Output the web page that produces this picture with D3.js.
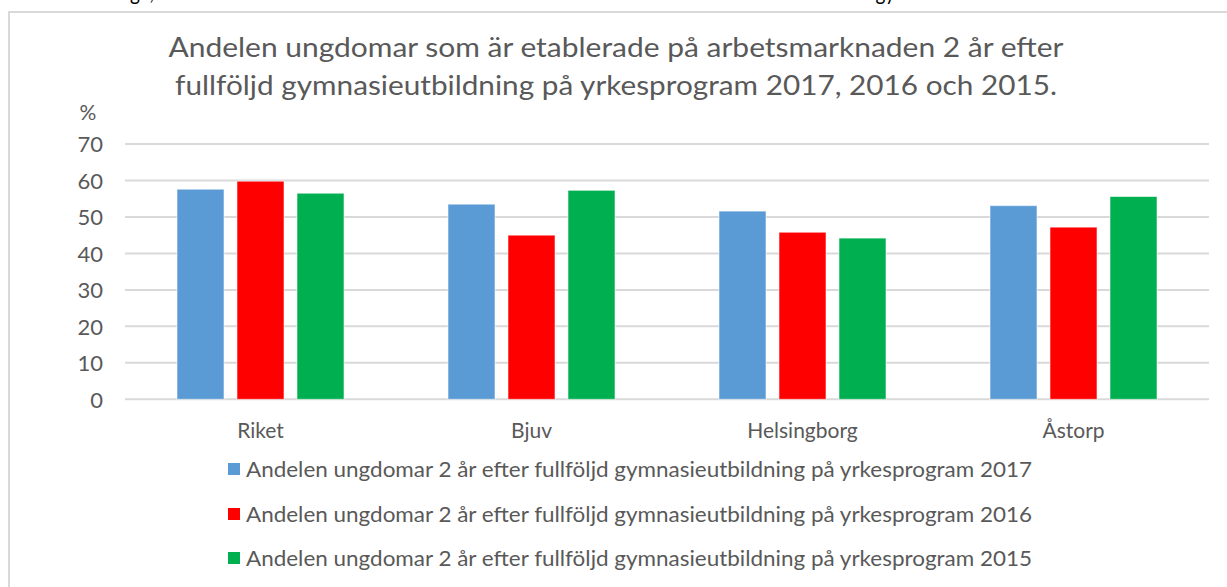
<!DOCTYPE html>
<html>
<head>
<meta charset="utf-8">
<script src="https://cdn.jsdelivr.net/npm/d3@7"></script>
<style>
  html, body { margin: 0; padding: 0; background: #fff; overflow: hidden; }
  svg { display: block; }
</style>
</head>
<body>
<svg id="chart" width="1227" height="587"></svg>
<script>
// Categories and series
const categories = ["Riket", "Bjuv", "Helsingborg", "Åstorp"];
const seriesNames = [
  "Andelen ungdomar 2 år efter fullföljd gymnasieutbildning på yrkesprogram 2017",
  "Andelen ungdomar 2 år efter fullföljd gymnasieutbildning på yrkesprogram 2016",
  "Andelen ungdomar 2 år efter fullföljd gymnasieutbildning på yrkesprogram 2015"
];
const values2017 = [57.6, 53.5, 51.6, 53.1];
const values2016 = [59.8, 45.0, 45.8, 47.2];
const values2015 = [56.5, 57.3, 44.2, 55.6];
const yTicks = [0, 10, 20, 30, 40, 50, 60, 70];
const colors = ["#5b9bd5", "#ff0000", "#00b050"];

const titleLines = [
  "Andelen ungdomar som är etablerade på arbetsmarknaden 2 år efter",
  "fullföljd gymnasieutbildning på yrkesprogram 2017, 2016 och 2015."
];
const precedingLine = "Etablerade unga, andel som är etablerade två år efter avslutad examen hos kommunerna och riket inom gymnasiet.";

const seriesValues = [values2017, values2016, values2015];
const data = categories.map((c, i) => ({
  category: c,
  values: seriesNames.map((s, j) => ({ series: s, idx: j, value: seriesValues[j][i] }))
}));

const svg = d3.select("#chart");
const font = "Lato, 'Open Sans', 'Liberation Sans', sans-serif";
const textColor = "#595959";

// Line of document text just above the chart object (cut by the page edge)
svg.append("text")
  .attr("x", 15).attr("y", -0.5)
  .attr("font-family", font).attr("font-size", 22)
  .attr("fill", "#000")
  .attr("textLength", 950).attr("lengthAdjust", "spacingAndGlyphs")
  .text(precedingLine);

// Chart area border
svg.append("rect")
  .attr("x", 9).attr("y", 12)
  .attr("width", 1300).attr("height", 700)
  .attr("fill", "#fff")
  .attr("stroke", "#d9d9d9").attr("stroke-width", 2);

// Title
const titleWidths = [895, 882];
svg.append("g").selectAll("text")
  .data(titleLines)
  .join("text")
  .attr("x", 616)
  .attr("y", (d, i) => 57 + i * 38)
  .attr("text-anchor", "middle")
  .attr("font-family", font).attr("font-size", 26)
  .attr("fill", textColor)
  .attr("textLength", (d, i) => titleWidths[i]).attr("lengthAdjust", "spacingAndGlyphs")
  .text(d => d);

// Scales
const plotLeft = 125, plotRight = 1209;
const y = d3.scaleLinear().domain([0, 70]).range([399.3, 144]);
const x0 = d3.scaleBand().domain(categories).range([plotLeft, plotRight]);
const clusterWidth = 167;
const x1 = d3.scaleBand().domain(d3.range(seriesNames.length))
  .range([0, clusterWidth]).paddingInner(13 / 60).paddingOuter(0);
const clusterOffset = (x0.bandwidth() - clusterWidth) / 2;

// Gridlines
svg.append("g").selectAll("line")
  .data(yTicks)
  .join("line")
  .attr("x1", plotLeft).attr("x2", plotRight)
  .attr("y1", d => y(d)).attr("y2", d => y(d))
  .attr("stroke", "#d9d9d9").attr("stroke-width", 2);

// Y axis labels
const yAxis = d3.axisLeft(y).tickValues(yTicks).tickSize(0).tickPadding(0);
const yAxisG = svg.append("g").attr("transform", "translate(103,0)").call(yAxis);
yAxisG.select(".domain").remove();
yAxisG.selectAll("text")
  .attr("font-family", font).attr("font-size", 22)
  .attr("fill", textColor).attr("dy", "0.36em");

svg.append("text")
  .attr("x", 88).attr("y", 120)
  .attr("text-anchor", "middle")
  .attr("font-family", font).attr("font-size", 21)
  .attr("fill", textColor)
  .text("%");

// Bars
const groups = svg.append("g").selectAll("g")
  .data(data)
  .join("g")
  .attr("transform", d => `translate(${x0(d.category) + clusterOffset},0)`);

groups.selectAll("rect")
  .data(d => d.values)
  .join("rect")
  .attr("x", d => x1(d.idx))
  .attr("width", x1.bandwidth())
  .attr("y", d => y(d.value))
  .attr("height", d => y(0) - y(d.value))
  .attr("fill", d => colors[d.idx])
  .attr("stroke", "rgba(255,255,255,0.55)")
  .attr("stroke-width", 1);

// Category axis labels
const xAxis = d3.axisBottom(x0).tickSize(0).tickPadding(0);
const xAxisG = svg.append("g").attr("transform", "translate(0,438)").call(xAxis);
xAxisG.select(".domain").remove();
xAxisG.selectAll("text")
  .attr("font-family", font).attr("font-size", 21)
  .attr("fill", textColor).attr("dy", 0);

// Legend
const legendRows = [469, 514, 558];
const legend = svg.append("g").selectAll("g")
  .data(seriesNames)
  .join("g")
  .attr("transform", (d, i) => `translate(228,${legendRows[i]})`);

legend.append("rect")
  .attr("x", 0).attr("y", -6)
  .attr("width", 12).attr("height", 12)
  .attr("fill", (d, i) => colors[i]);

legend.append("text")
  .attr("x", 18).attr("y", 0).attr("dy", "0.36em")
  .attr("font-family", font).attr("font-size", 21)
  .attr("fill", textColor)
  .attr("textLength", 786).attr("lengthAdjust", "spacingAndGlyphs")
  .text(d => d);
</script>
</body>
</html>
